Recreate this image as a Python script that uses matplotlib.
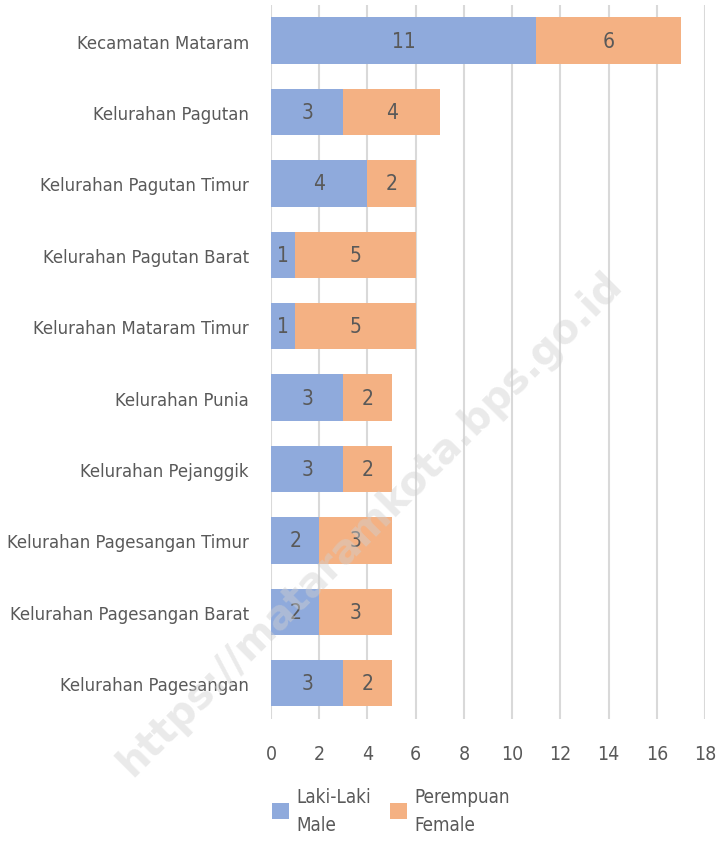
import matplotlib.pyplot as plt

# data, top to bottom as in the chart
wilayah = ["Kecamatan Mataram", "Kelurahan Pagutan", "Kelurahan Pagutan Timur",
           "Kelurahan Pagutan Barat", "Kelurahan Mataram Timur", "Kelurahan Punia",
           "Kelurahan Pejanggik", "Kelurahan Pagesangan Timur",
           "Kelurahan Pagesangan Barat", "Kelurahan Pagesangan"]
laki = [11, 3, 4, 1, 1, 3, 3, 2, 2, 3]
perempuan = [6, 4, 2, 5, 5, 2, 2, 3, 3, 2]

biru = "#8faadc"
oranye = "#f4b183"
abu = "#595959"

plt.rcParams['font.family'] = 'DejaVu Sans'
plt.rcParams['font.stretch'] = 'condensed'

fig = plt.figure(figsize=(7.19, 8.45), dpi=100)
ax = fig.add_axes([0.377, 0.148, 0.6035, 0.845])

y = list(range(len(wilayah)))
b1 = ax.barh(y, laki, height=0.65, color=biru, label="Laki-Laki\nMale", zorder=2)
b2 = ax.barh(y, perempuan, left=laki, height=0.65, color=oranye,
             label="Perempuan\nFemale", zorder=2)
ax.bar_label(b1, label_type='center', color=abu, fontsize=15)
ax.bar_label(b2, label_type='center', color=abu, fontsize=15)

ax.set_ylim(len(wilayah) - 0.5, -0.5)
ax.set_xlim(0, 18)
ax.set_xticks(range(0, 19, 2))
ax.set_yticks(y)
ax.set_yticklabels(wilayah, fontsize=13.2)
ax.tick_params(axis='both', length=0, labelcolor=abu)
ax.tick_params(axis='x', pad=18, labelsize=14)
ax.tick_params(axis='y', pad=16)
ax.grid(axis='x', color='#d9d9d9', linewidth=1.5, zorder=0)
for s in ax.spines.values():
    s.set_visible(False)

leg = fig.legend(handles=[b1, b2], loc='upper left', bbox_to_anchor=(0.355, 0.088),
                 ncol=2, frameon=False, fontsize=13.5, labelcolor=abu,
                 handlelength=0.9, handleheight=0.9, handletextpad=0.4,
                 columnspacing=1.0)
for t in leg.get_texts():
    t.set_linespacing(1.6)

# watermark
fig.text(0.515, 0.38, "https://mataramkota.bps.go.id", rotation=45,
         ha='center', va='center', fontsize=29, fontweight='bold',
         fontstretch='normal', color='#d0d0d0', alpha=0.45, zorder=10)

fig.savefig("out.png", dpi=100)
